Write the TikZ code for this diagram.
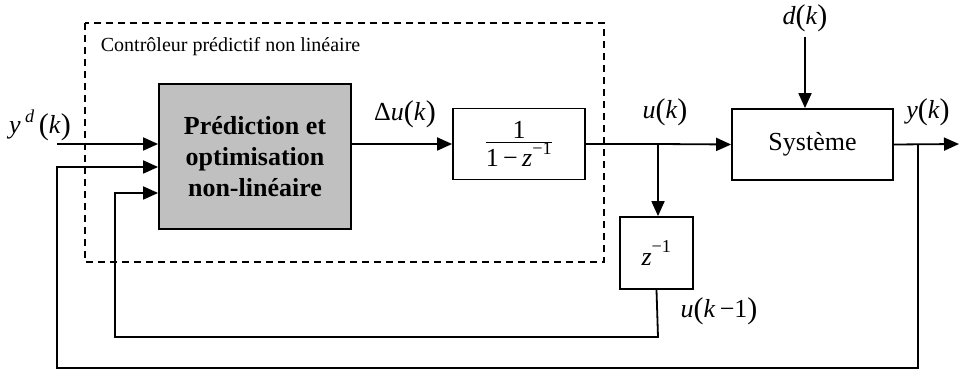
\documentclass[tikz,border=0pt]{standalone}
\usepackage{fontspec}
\setmainfont{Liberation Serif}
\usetikzlibrary{arrows.meta}
\newcommand\lpar{{\fontsize{30}{30}\selectfont\raisebox{-1pt}{(}}}
\newcommand\rpar{{\fontsize{30}{30}\selectfont\raisebox{-1pt}{)}}}
\begin{document}
\begin{tikzpicture}[x=1pt,y=-1pt,line width=1.8pt,
  blk/.style={draw,line width=1.8pt,inner sep=0pt,font=\fontsize{26}{30}\selectfont},
  arr/.style={-{Triangle[length=15pt,width=13pt]}},
  lbl/.style={inner sep=0pt,font=\fontsize{26}{30}\selectfont},
  dash box/.style={draw,line width=1.5pt,dash pattern=on 7pt off 5pt}]
\useasboundingbox (0,0) rectangle (959,374);
% dashed controller frame
\draw[dash box] (85,23) rectangle (604,262);
\node[anchor=west,inner sep=0pt,font=\fontsize{20}{24}\selectfont] (ctl) at (100,47) {Contrôleur prédictif non linéaire};
% blocks
\node[blk,fill={rgb,255:red,192;green,192;blue,192},minimum width=192pt,minimum height=145pt,align=center,font=\bfseries\fontsize{26}{31}\selectfont] (P) at (255,156.5) {Prédiction et\\optimisation\\non-linéaire};
\node[blk,minimum width=132pt,minimum height=71pt] (I) at (519,144) {$\frac{\mbox{1}}{\mbox{1\,−\,\textit{z}\raisebox{3pt}{\textsuperscript{−1}}}}$};
\node[blk,minimum width=161pt,minimum height=71pt] (S) at (812.5,144.5) {Système};
\node[blk,minimum width=73pt,minimum height=72pt] (Z) at (656.5,253) {\textit{z}\raisebox{3pt}{\textsuperscript{−1}}};
% labels
\node[lbl] (yd) at (40,125) {\textit{y}\,\raisebox{2pt}{\textsuperscript{\textit{d}}}\,\lpar\textit{k}\rpar};
\node[lbl] (du) at (405,114) {Δ\textit{u}\lpar\textit{k}\rpar};
\node[lbl] (uk) at (665,112) {\textit{u}\lpar\textit{k}\rpar};
\node[lbl] (dk) at (805,18) {\textit{d}\lpar\textit{k}\rpar};
\node[lbl] (yk) at (928,112) {\textit{y}\lpar\textit{k}\rpar};
\node[lbl] (uk1) at (719,311) {\textit{u}\lpar\textit{k}\,−1\rpar};
% coordinates
\coordinate (ydin) at (57,144);
\coordinate (bu) at (658,144);
\coordinate (by) at (918,144);
\coordinate (yout) at (959,144);
\coordinate (dtop) at (805,37);
% connectors
\draw[arr] (ydin) -- (P.west |- ydin);
\draw[arr] (P.east |- I.west) -- (I.west);
\draw (I.east) -- (bu);
\draw[arr] (bu) -- (S.west);
\draw[arr] (bu) -- (bu |- Z.north);
\draw[arr] (S.east) -- (yout);
\draw[arr] (dtop) -- (dtop |- S.north);
\draw[arr] (Z.south) -- (658,337) -- (115,337) -- (115,193) -- (P.west |- 0,193);
\draw[arr] (by) -- (918,368) -- (57,368) -- (57,167) -- (P.west |- 0,167);
\end{tikzpicture}
\end{document}
